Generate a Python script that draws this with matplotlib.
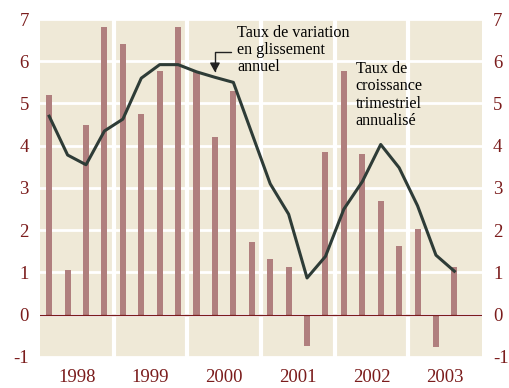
import numpy as np
import matplotlib.pyplot as plt

# Données trimestrielles 1998T1 - 2003T3
years = ["1998", "1999", "2000", "2001", "2002", "2003"]
taux_trimestriel = [5.2, 1.05, 4.5, 6.8,
                    6.4, 4.75, 5.78, 6.8,
                    5.74, 4.2, 5.3, 1.73,
                    1.32, 1.14, -0.73, 3.86,
                    5.77, 3.8, 2.7, 1.63,
                    2.04, -0.76, 1.14]
glissement_annuel = [4.7, 3.78, 3.55, 4.35,
                     4.63, 5.6, 5.92, 5.92,
                     5.75, 5.62, 5.5, 4.3,
                     3.1, 2.38, 0.87, 1.38,
                     2.5, 3.15, 4.03, 3.48,
                     2.58, 1.41, 1.03]
y_ticks = [-1, 0, 1, 2, 3, 4, 5, 6, 7]

bg = '#efe9d7'
rouge = '#7b1c1c'
barre = '#b07f7e'
courbe = '#2e3c37'
serif = 'Liberation Serif'

fig = plt.figure(figsize=(5.1, 3.88), dpi=100)
ax = fig.add_axes([0.0784, 0.08, 0.8667, 0.871])
ax.set_facecolor(bg)

x = np.arange(len(taux_trimestriel))
n_q = 4 * len(years)

# grille blanche
for v in y_ticks:
    ax.axhline(v, color='white', linewidth=2, zorder=1)
for k in range(1, len(years)):
    ax.axvline(4 * k - 0.5, color='white', linewidth=3, zorder=1)

ax.bar(x, taux_trimestriel, width=0.33, color=barre, zorder=2)
ax.axhline(0, color=rouge, linewidth=0.9, zorder=3)
ax.plot(x, glissement_annuel, color=courbe, linewidth=2.2, zorder=4)

ax.set_xlim(-0.5, n_q - 0.5)
ax.set_ylim(-1, 7)
for s in ax.spines.values():
    s.set_visible(False)

ax.set_yticks(y_ticks)
ax.set_yticklabels([str(v) for v in y_ticks])
ax.tick_params(axis='y', length=0, labelsize=13.5, labelcolor=rouge,
               left=True, right=True, labelleft=True, labelright=True, pad=8)
for t in ax.yaxis.get_major_ticks():
    t.label1.set_fontfamily(serif)
    t.label2.set_fontfamily(serif)

ax.set_xticks([4 * i + 1.5 for i in range(len(years))])
ax.set_xticklabels(years, fontfamily=serif, fontsize=13.5, color=rouge)
ax.tick_params(axis='x', length=0, pad=9)

# annotations
ax.text(10.2, 6.86, "Taux de variation\nen glissement\nannuel", fontfamily=serif,
        fontsize=11.6, va='top', ha='left', linespacing=1.1, zorder=5)
ax.annotate("", xy=(9.0, 5.74), xytext=(9.85, 6.23),
            arrowprops=dict(arrowstyle='-|>,head_length=0.55,head_width=0.3',
                            connectionstyle='angle,angleA=0,angleB=90,rad=0',
                            color='#222222', linewidth=1, shrinkA=0, shrinkB=0), zorder=5)
ax.text(16.65, 6.0, "Taux de\ncroissance\ntrimestriel\nannualisé", fontfamily=serif,
        fontsize=11.6, va='top', ha='left', linespacing=1.1, zorder=5)

fig.savefig('out.png', dpi=100, facecolor='white')
